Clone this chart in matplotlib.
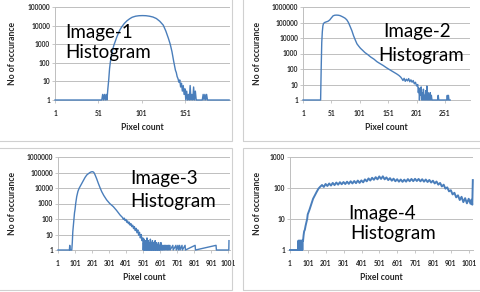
import numpy as np
import matplotlib.pyplot as plt
from matplotlib.patches import Rectangle
from matplotlib.ticker import NullLocator

plt.rcParams['font.family'] = ['Lato', 'DejaVu Sans']

W, H = 480, 292
BLUE = '#4a7ebb'
GRID = '#bfbfbf'
TXT = '#262626'

# ---- Image-1 histogram (bin, count) ----
x1 = [1, 55, 56, 57, 58, 59, 60, 61, 62, 63,
      64, 65, 66, 67, 68, 69, 70, 72, 74, 76,
      78, 81, 84, 87, 90, 94, 98, 102, 106, 110,
      114, 118, 122, 126, 129, 132, 134, 136, 138, 140,
      141, 142, 143, 144, 145, 146, 147,
      148, 149, 150, 151, 152, 153, 154, 155, 156, 157,
      158, 159, 160, 161, 162, 163, 164, 165, 171, 172,
      173, 174, 175, 176, 177, 202]
y1 = [1, 1, 2, 1, 2, 1, 2, 1, 4, 12,
      50, 120, 220, 400, 600, 900, 1200, 2200, 3800, 6000,
      8500, 13000, 18000, 23000, 28000, 32000, 34000, 34500, 34000, 32000,
      29000, 24000, 17000, 10500, 5000, 2000, 1000, 400, 120, 40,
      30, 18, 14, 9, 12, 5, 8,
      3, 6, 2, 4, 1, 3, 1, 2, 1, 6,
      1, 2, 1, 5, 1, 3, 1, 1, 1, 2,
      1, 2, 1, 2, 1, 1]

# ---- Image-2 histogram ----
x2 = [1, 32, 33, 34, 35, 36, 37, 39, 42, 45,
      48, 51, 54, 57, 60, 63, 66, 69, 72, 75,
      78, 81, 84, 87, 90, 93, 96, 99, 102, 106,
      110, 115, 120, 126, 131, 136, 142, 148, 154, 160,
      166, 170, 173, 175, 177, 179, 181, 183, 185, 187,
      189, 191, 193, 195, 197, 199, 201, 203, 204, 205,
      206, 207, 208, 209, 210, 211, 212, 213, 214, 215,
      216, 217, 218, 219, 220, 221, 222, 223, 224, 225,
      226, 227, 228, 238, 239, 240, 254, 255, 256, 257,
      258, 260]
y2 = [1, 1, 100, 5000, 25000, 60000, 85000, 100000, 110000, 120000,
      145000, 200000, 270000, 295000, 300000, 295000, 280000, 250000, 220000, 190000,
      150000, 100000, 55000, 30000, 14000, 7500, 4200, 3000, 2200, 1600,
      1150, 850, 600, 430, 300, 230, 170, 120, 88, 65,
      48, 38, 30, 24, 18, 25, 16, 22, 17, 24,
      15, 20, 14, 18, 11, 14, 8, 10, 3, 6,
      1, 4, 2, 7, 1, 3, 1, 5, 1, 2,
      1, 4, 1, 8, 1, 3, 1, 2, 1, 3,
      1, 2, 1, 1, 2, 1, 1, 2, 1, 2,
      1, 1]

# ---- Image-3 histogram ----
x3 = [1, 68, 70, 72, 82, 85, 88, 91, 95, 98,
      101, 105, 111, 118, 125, 130, 140, 150, 160, 170,
      180, 189, 195, 200, 206, 212, 219, 228, 238, 248,
      258, 270, 287, 305, 326, 345, 366, 380, 385, 390,
      395, 400, 405, 410, 415, 420, 425, 430, 435, 440,
      445, 450, 455, 460, 465, 470, 475, 480, 485, 490,
      495, 500, 502,
      504, 506, 508, 510, 512, 514, 516, 518, 520, 522,
      524, 526, 528, 530, 532, 534, 536, 538, 540, 542,
      544, 546, 548, 550, 552, 554, 556, 558, 560, 562,
      564, 566, 568, 570, 572, 574, 576, 578, 580, 582,
      584, 586, 588, 590, 592, 594, 596, 598, 600, 602,
      606, 608, 612, 614, 618, 620, 626, 628, 634, 636,
      642, 644, 650, 652, 658, 660, 676, 678, 694, 696,
      706, 708, 716, 718, 730, 732, 748, 750, 807, 809,
      930, 932, 1005, 1006]
y3 = [1, 1, 2, 1, 1, 3, 15, 35, 120, 250,
      400, 1000, 2800, 6000, 9500, 12000, 19000, 31000, 48000, 69000,
      85000, 100000, 108000, 112000, 112000, 100000, 70000, 40000, 20000, 10500,
      5800, 3300, 1700, 1000, 630, 360, 180, 125, 95, 115,
      80, 95, 62, 75, 50, 62, 40, 50, 32, 40,
      24, 32, 18, 25, 13, 20, 9, 14, 6, 10,
      4, 6, 1,
      3, 1, 5, 1, 2, 1, 4, 1, 3, 1,
      6, 1, 2, 1, 4, 1, 3, 1, 2, 1,
      5, 1, 3, 1, 2, 1, 4, 1, 2, 1,
      3, 1, 2, 1, 4, 1, 2, 1, 3, 1,
      2, 1, 2, 1, 3, 1, 2, 1, 2, 1,
      3, 1, 2, 1, 2, 1, 2, 1, 2, 1,
      2, 1, 2, 1, 2, 1, 2, 1, 2, 1,
      2, 1, 2, 1, 2, 1, 2, 1, 2, 1,
      2, 1, 1, 4]

# ---- Image-4 histogram ----
x4_head = [1, 46, 48, 50, 52, 54, 56, 58, 60, 62,
           64, 66, 68, 70, 72, 74, 77, 80, 84, 88,
           93, 97]
y4_head = [1, 1, 2, 1, 2, 1, 2, 1, 2, 1,
           2, 1, 2, 1, 2, 2, 3, 4, 4.5, 6,
           8, 10]
y4_body = [14, 20, 30, 45, 58, 75, 95, 110, 125, 108,
           135, 116, 140, 120, 146, 124, 150, 128, 154, 132,
           156, 134, 160, 136, 165, 140, 168, 143, 174, 146,
           176, 152, 190, 164, 204, 174, 214, 184, 224, 190,
           236, 196, 238, 190, 220, 180, 208, 172, 200, 165,
           192, 160, 188, 158, 186, 160, 194, 165, 196, 166,
           198, 168, 196, 164, 192, 160, 188, 156, 182, 150,
           172, 140, 162, 128, 146, 112, 128, 95, 105, 78,
           85, 62, 70, 50, 58, 41, 52, 35, 47, 32,
           45, 31]
x4_body = list(range(100, 1011, 10))
x4_tail = [1015, 1020, 1023]
y4_tail = [42, 29, 180]
x4 = x4_head + x4_body + x4_tail
y4 = y4_head + y4_body + y4_tail


def px_axes(fig, l, t, r, b):
    return fig.add_axes([l / W, 1 - b / H, (r - l) / W, (b - t) / H])


def panel(fig, plot_px, x, y, xlim, xticks, yticks, titles, ylab_x, lw=1.0):
    l, t, r, b = plot_px
    ax = px_axes(fig, l, t, r, b)
    ax.plot(x, y, color=BLUE, lw=lw, clip_on=False, zorder=3)
    ax.set_yscale('log')
    ax.set_ylim(yticks[0], yticks[-1])
    ax.set_xlim(*xlim)
    ax.set_yticks(yticks)
    ax.set_yticklabels([str(v) for v in yticks])
    ax.yaxis.set_minor_locator(NullLocator())
    ax.set_xticks(xticks)
    ax.set_xticklabels([str(v) for v in xticks])
    ax.grid(axis='y', color=GRID, lw=0.7)
    ax.set_axisbelow(True)
    for s in ['top', 'right']:
        ax.spines[s].set_visible(False)
    for s in ['left', 'bottom']:
        ax.spines[s].set_color(GRID)
        ax.spines[s].set_linewidth(0.7)
    ax.tick_params(axis='both', colors=GRID, labelcolor=TXT, labelsize=4.8,
                   length=2, width=0.6)
    ax.tick_params(axis='y', pad=1.5)
    ax.tick_params(axis='x', pad=5)
    for lab in ax.get_xticklabels() + ax.get_yticklabels():
        lab.set_fontweight('bold')

    fig.text(ylab_x / W, 1 - (t + b) / 2 / H, 'No of occurance', rotation=90,
             ha='center', va='center', fontsize=6.2, fontweight='bold', color=TXT)
    fig.text((l + r) / 2 / W, 1 - (b + 28) / H, 'Pixel count', ha='center',
             va='center', fontsize=6.2, fontweight='bold', color=TXT)
    for txt, tx, base in titles:
        fig.text(tx / W, 1 - base / H, txt, ha='left', va='baseline',
                 fontsize=13.5, color='black', zorder=5)
    return ax


fig = plt.figure(figsize=(4.8, 2.92), dpi=100)

# panel frames
for x0, y0, x1b, y1b in [(-2, -2, 232, 141), (243, -2, 482, 141),
                         (-2, 148, 232, 290), (243, 148, 482, 290)]:
    fig.add_artist(Rectangle((x0 / W, 1 - y1b / H), (x1b - x0) / W, (y1b - y0) / H,
                             transform=fig.transFigure, fill=False,
                             ec='#d0d0d0', lw=0.8))

panel(fig, (55, 7, 230, 100), x1, y1, (1, 203), [1, 51, 101, 151],
      [1, 10, 100, 1000, 10000, 100000],
      [('Image-1', 65, 38), ('Histogram', 65, 58)], 13)
panel(fig, (303, 7, 470, 100), x2, y2, (1, 295), [1, 51, 101, 151, 201, 251],
      [1, 10, 100, 1000, 10000, 100000, 1000000],
      [('Image-2', 383, 37.5), ('Histogram', 378, 61)], 258)
panel(fig, (58, 157, 230, 250), x3, y3, (1, 1012),
      [1, 101, 201, 301, 401, 501, 601, 701, 801, 901, 1001],
      [1, 10, 100, 1000, 10000, 100000, 1000000],
      [('Image-3', 130, 183.7), ('Histogram', 130, 207)], 13)
panel(fig, (290, 157, 473, 250), x4, y4, (1, 1024),
      [1, 101, 201, 301, 401, 501, 601, 701, 801, 901, 1001],
      [1, 10, 100, 1000],
      [('Image-4', 348, 218.7), ('Histogram', 350, 239.3)], 257, lw=1.4)

fig.savefig('out.png', dpi=100)
